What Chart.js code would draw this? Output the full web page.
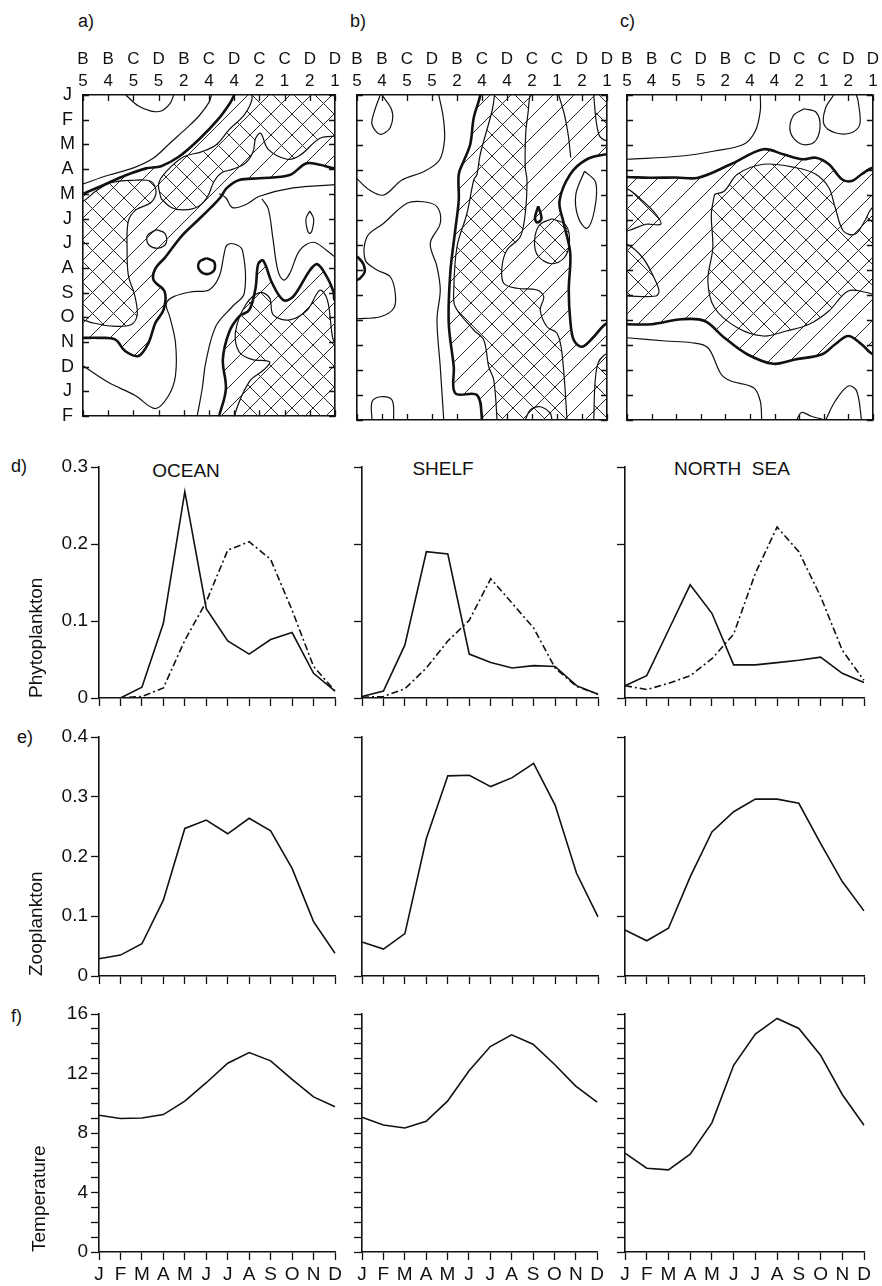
<!DOCTYPE html>
<html><head><meta charset="utf-8">
<script src="https://cdn.jsdelivr.net/npm/chart.js"></script>
<style>
html,body{margin:0;padding:0;background:#fff;width:882px;height:1286px;overflow:hidden;position:relative;font-family:'Liberation Sans',Arial,sans-serif;color:#111}
.t{position:absolute;font-size:19px;line-height:1;white-space:pre;transform:translate(-50%,-50%)}
.tl{position:absolute;font-size:18px;line-height:1;white-space:pre;transform:translateY(-50%)}
</style></head><body>
<div class="tl" style="left:78px;top:21px">a)</div>
<div class="tl" style="left:350px;top:21px">b)</div>
<div class="tl" style="left:620px;top:21px">c)</div>
<div class="tl" style="left:11px;top:466px">d)</div>
<div class="tl" style="left:17px;top:737px">e)</div>
<div class="tl" style="left:11px;top:1016px">f)</div>
<div class="t" style="left:186px;top:470px">OCEAN</div>
<div class="t" style="left:443px;top:468px">SHELF</div>
<div class="t" style="left:732px;top:468px">NORTH  SEA</div>
<script>
// ---------- data ----------
const months = ['J','F','M','A','M','J','J','A','S','O','N','D'];
const monthsY = ['J','F','M','A','M','J','J','A','S','O','N','D','J','F'];
const stationLetters = ['B','B','C','D','B','C','D','C','C','D','D'];
const stationNumbers = ['5','4','5','5','2','4','4','2','1','2','1'];

const phytoOceanSolid = [0, 0, 0.014, 0.097, 0.268, 0.116, 0.074, 0.057, 0.076, 0.085, 0.032, 0.009];
const phytoOceanDash  = [0, 0, 0.002, 0.013, 0.075, 0.125, 0.192, 0.203, 0.180, 0.114, 0.041, 0.009];
const phytoShelfSolid = [0.002, 0.009, 0.069, 0.190, 0.187, 0.057, 0.046, 0.039, 0.042, 0.041, 0.016, 0.005];
const phytoShelfDash  = [0.001, 0.002, 0.012, 0.039, 0.074, 0.101, 0.155, 0.123, 0.091, 0.039, 0.015, 0.005];
const phytoNSSolid    = [0.016, 0.029, 0.088, 0.147, 0.110, 0.043, 0.043, 0.046, 0.049, 0.053, 0.032, 0.020];
const phytoNSDash     = [0.016, 0.011, 0.019, 0.029, 0.051, 0.083, 0.162, 0.222, 0.190, 0.132, 0.062, 0.023];

const zooOcean = [0.029, 0.035, 0.054, 0.127, 0.247, 0.261, 0.238, 0.264, 0.243, 0.180, 0.091, 0.038];
const zooShelf = [0.057, 0.045, 0.071, 0.230, 0.335, 0.336, 0.317, 0.332, 0.356, 0.286, 0.172, 0.099];
const zooNS    = [0.077, 0.059, 0.080, 0.166, 0.241, 0.275, 0.296, 0.296, 0.289, 0.222, 0.158, 0.109];

const tempOcean = [9.19, 8.97, 9.01, 9.24, 10.14, 11.38, 12.69, 13.41, 12.85, 11.60, 10.43, 9.76];
const tempShelf = [9.06, 8.54, 8.34, 8.79, 10.14, 12.17, 13.81, 14.60, 13.97, 12.62, 11.15, 10.07];
const tempNS    = [6.65, 5.63, 5.52, 6.58, 8.68, 12.55, 14.65, 15.70, 15.03, 13.23, 10.59, 8.52];

// contour panels: x = station index (0..10), y = month index (0 = J at top .. 13 = F)
const aHatch = [
 [[0,4.0],[0.8,3.65],[1.7,3.25],[2.5,2.97],[3.1,2.88],[3.8,2.5],[4.6,1.8],[5.35,1.0],[5.85,0.3],[6.0,0],[6.3,-0.6],[10.6,-0.6],[10.6,2.9],[10,2.97],[9.4,2.82],[8.85,2.77],[8.2,3.24],[7.0,3.37],[6.2,3.44],[5.7,3.77],[5.45,4.15],[5.07,4.56],[4.6,5.03],[3.93,5.69],[3.27,6.56],[2.87,7.03],[2.8,7.49],[3.24,7.96],[3.2,8.69],[2.87,9.23],[2.6,10.03],[2.2,10.56],[1.67,10.36],[1.27,9.89],[0.6,9.83],[0,9.83],[-0.6,9.8],[-0.6,4.1],[0,4.0]],
 [[5.4,13],[5.67,11.9],[5.55,10.7],[5.8,9.6],[6.2,8.96],[6.6,8.7],[6.85,7.8],[6.95,6.85],[7.15,6.7],[7.5,7.6],[7.95,8.3],[8.35,8.15],[9.0,7.1],[9.3,6.85],[9.7,7.4],[9.95,8.0],[10,8.3],[10.6,8.3],[10.6,13.6],[5.3,13.6],[5.4,13]]
];
const aCross = [
 [[3.1,4.2],[3.0,3.6],[3.3,3.1],[4.0,2.5],[4.7,2.3],[5.3,2.0],[5.8,1.4],[6.4,0.8],[6.7,0.2],[6.75,-0.6],[10.6,-0.6],[10.6,1.7],[10,1.67],[9.4,1.75],[8.6,2.45],[8.1,2.6],[7.35,2.2],[7.05,1.55],[6.85,1.75],[6.75,2.3],[6.45,2.75],[5.95,3.0],[5.5,3.15],[5.2,3.5],[4.95,4.1],[4.6,4.5],[4.0,4.65],[3.5,4.55],[3.1,4.2]],
 [[-0.6,4.5],[0,4.3],[0.5,3.9],[1.1,3.55],[2.0,3.45],[2.7,3.5],[2.9,3.9],[2.7,4.35],[2.1,4.65],[1.8,5.1],[1.75,6.2],[1.8,7.3],[2.05,8.1],[2.15,8.9],[1.9,9.3],[1.1,9.35],[0.3,9.2],[0,9.1],[-0.6,9.1],[-0.6,4.5]],
 [[6.0,13.6],[6.0,13],[6.6,11.6],[7.2,11.1],[7.4,10.8],[6.7,10.7],[6.2,10.4],[6.05,9.6],[6.45,8.5],[7.0,8.0],[7.4,8.2],[7.55,8.9],[8.2,9.1],[8.9,8.7],[9.4,7.9],[9.7,8.3],[9.9,9.8],[10,10],[10.6,10],[10.6,13.6],[6.0,13.6]]
];
const aThin = [
 [[1.7,0],[2.2,0.45],[2.7,0.65],[3.1,0.65],[3.45,0.35],[3.6,0]],
 [[0,3.6],[1.0,3.25],[2.0,2.95],[2.8,2.55],[3.5,1.9],[4.1,1.35],[4.6,0.85],[5.0,0.3],[5.1,0]],
 [[0,10.96],[1.0,11.63],[2.07,12.16],[2.87,12.69],[3.4,12.16],[3.67,11.36],[3.67,10.03],[3.45,9.0],[3.3,8.45],[3.6,8.16],[4.33,7.96],[5.0,7.89],[5.4,7.36],[5.6,6.43],[5.7,6.09],[6.0,6.03],[6.33,6.29],[6.4,8.03],[5.93,8.56],[5.27,9.36],[4.87,10.83],[4.73,11.89],[4.53,13]],
 [[2.9,5.45],[3.25,5.6],[3.3,6.0],[3.0,6.2],[2.6,6.05],[2.55,5.7],[2.9,5.45]],
 [[5.4,4.0],[5.67,4.16],[5.93,4.56],[6.47,4.43],[7.0,4.1],[8.33,3.76],[10,3.63]],
 [[7.1,4.2],[7.35,4.6],[7.53,5.76],[7.73,7.09],[7.96,7.49],[8.2,7.23],[8.6,6.29],[9.13,5.96],[9.67,6.29],[10,6.56]],
 [[9.0,4.7],[9.15,5.0],[9.1,5.45],[9.0,5.6],[8.9,5.45],[8.85,5.0],[9.0,4.7]]
];
const aThick = [
 [[4.9,6.6],[5.2,6.75],[5.2,7.1],[4.9,7.25],[4.6,7.05],[4.62,6.75],[4.9,6.6]]
];

const bHatch = [
 [[4.93,-0.6],[4.93,0],[4.67,0.91],[4.53,1.97],[4.27,2.64],[4.07,3.17],[4.07,4.2],[3.93,5.4],[3.73,7.13],[3.67,9.13],[3.87,10.87],[3.93,11.93],[4.8,12.0],[5.0,13],[5.0,13.6],[10.6,13.6],[10.6,9.13],[10,9.13],[9.47,9.67],[9.0,10.07],[8.67,9.8],[8.53,9.0],[8.47,7.8],[8.53,6.33],[8.27,5.13],[8.1,4.24],[8.53,3.17],[9.2,2.57],[10,2.37],[10.6,2.37],[10.6,-0.6],[4.93,-0.6]]
];
const bCross = [
 [[5.5,-0.6],[5.5,0],[5.4,0.64],[4.93,2.37],[4.8,3.17],[4.67,3.4],[4.4,4.73],[4.0,6.07],[3.87,7.8],[3.93,8.47],[4.67,9.4],[5.07,9.8],[5.27,10.87],[5.47,11.4],[5.6,13],[5.6,13.6],[8.4,13.6],[8.4,13],[8.2,10.33],[8.0,9.53],[7.6,9.27],[7.33,8.6],[7.47,8.07],[7.2,7.8],[6.4,7.73],[5.87,7.53],[5.8,6.87],[6.0,6.2],[6.53,5.67],[6.73,4.73],[6.8,3.4],[6.73,2.9],[6.75,1.5],[6.87,0.4],[6.85,-0.6],[5.5,-0.6]],
 [[9.47,-0.6],[9.47,0],[9.67,1.57],[10,1.84],[10.6,1.84],[10.6,-0.6],[9.47,-0.6]],
 [[9.47,13.6],[9.47,13],[9.6,10.87],[10,10.33],[10.6,10.33],[10.6,13.6],[9.47,13.6]],
 [[7.8,4.95],[8.35,5.2],[8.5,5.85],[8.3,6.5],[7.8,6.75],[7.25,6.45],[7.1,5.85],[7.3,5.2],[7.8,4.95]]
];
const bThin = [
 [[0.93,0],[0.7,0.64],[0.6,1.17],[0.93,1.57],[1.33,1.3],[1.4,0.64],[1.0,0]],
 [[3.27,0],[3.45,0.9],[3.5,1.8],[3.3,2.6],[2.7,3.05],[1.8,3.4],[1.07,4.0],[0.5,3.8],[0,3.35]],
 [[0,8.95],[0.93,8.87],[1.47,8.53],[1.53,7.93],[1.33,7.27],[0.8,7.0],[0.33,6.6],[0.4,5.67],[1.07,5.13],[2.0,4.33],[2.67,4.27],[3.2,4.47],[3.33,5.13],[2.93,5.93],[3.2,6.87],[3.33,7.8],[3.2,9.0],[3.33,10.87],[3.47,13]],
 [[0.6,13],[0.6,12.27],[0.93,12.07],[1.4,12.2],[1.47,13]],
 [[6.73,13],[6.93,12.6],[7.33,12.47],[7.73,12.73],[7.8,13]],
 [[8.07,0],[8.3,0.8],[8.45,1.6],[8.55,2.5]],
 [[9.1,3.05],[9.55,3.5],[9.5,4.6],[9.2,5.33],[8.85,4.9],[8.75,4.0],[9.1,3.05]]
];
const bThick = [
 [[7.25,4.45],[7.38,4.95],[7.2,5.1],[7.12,4.9],[7.25,4.45]],
 [[0,6.45],[0.25,6.75],[0.3,7.1],[0.1,7.35],[0,7.4]]
];

const cHatch = [
 [[-0.6,3.28],[0,3.28],[0.9,3.31],[2.0,3.3],[2.9,3.31],[4.22,2.77],[5.55,2.17],[6.35,2.37],[7.14,2.57],[7.68,2.51],[8.21,2.77],[8.74,3.37],[9.14,3.44],[9.54,3.17],[10,2.91],[10.6,2.91],[10.6,10.37],[10,10.37],[9.54,9.97],[9.0,9.64],[8.47,9.97],[7.94,10.37],[6.88,10.57],[5.95,10.75],[4.89,10.37],[3.96,9.71],[3.16,9.04],[2.23,8.97],[1.0,9.17],[0,9.17],[-0.6,9.17],[-0.6,3.28]]
];
const cCross = [
 [[3.56,3.97],[3.96,3.84],[4.49,3.17],[5.55,2.77],[6.88,2.91],[7.68,3.17],[8.21,3.71],[8.47,4.51],[8.8,5.44],[9.27,5.57],[9.67,5.04],[10,4.5],[10.6,4.5],[10.6,7.97],[10,7.97],[9.8,7.91],[9.0,7.84],[8.21,8.64],[7.41,9.17],[6.48,9.44],[5.55,9.64],[4.49,9.31],[3.56,8.51],[3.29,7.44],[3.49,6.11],[3.43,4.77],[3.56,3.97]],
 [[-0.6,3.75],[0,3.75],[0.64,4.24],[1.2,4.8],[1.37,5.17],[0.77,5.17],[0,5.44],[-0.6,5.44],[-0.6,3.75]],
 [[-0.6,5.97],[0,5.97],[0.64,6.51],[1.1,7.31],[1.3,7.84],[1.17,8.04],[0,8.04],[-0.6,8.04],[-0.6,5.97]]
];
const cThin = [
 [[5.42,0],[5.42,0.64],[5.22,1.44],[4.75,1.97],[3.56,2.24],[2.23,2.44],[0,2.57]],
 [[7.2,0.55],[7.7,0.7],[7.85,1.3],[7.6,1.9],[7.05,1.95],[6.65,1.5],[6.75,0.85],[7.2,0.55]],
 [[8.41,0],[8.08,0.51],[8.01,1.17],[8.47,1.51],[9.13,1.51],[9.47,1.17],[9.4,0.24],[9.33,0]],
 [[0,9.71],[1.56,9.84],[2.63,9.91],[3.29,10.11],[3.83,11.17],[4.22,11.44],[5.15,11.71],[5.42,12.24],[5.48,13]],
 [[8.08,13],[8.47,12.24],[9.0,11.64],[9.34,11.84],[9.54,13]],
 [[6.9,13],[7.1,12.7],[7.5,12.85],[8.08,13]]
];
const cThick = [];

// ---------- rendering ----------
const INK = '#111';
Chart.defaults.font.family = "'Liberation Sans', Arial, sans-serif";
Chart.defaults.font.size = 19;
Chart.defaults.color = INK;

function makePattern(cross) {
  const s = 21, c = document.createElement('canvas');
  c.width = s; c.height = s;
  const g = c.getContext('2d');
  g.strokeStyle = '#2a2a2a'; g.lineWidth = 1;
  const seg = (x0, y0, x1, y1) => { g.beginPath(); g.moveTo(x0, y0); g.lineTo(x1, y1); g.stroke(); };
  seg(-2, s + 2, s + 2, -2); seg(-2, 2, 2, -2); seg(s - 2, s + 2, s + 2, s - 2);
  if (cross) { seg(-2, -2, s + 2, s + 2); seg(s - 2, -2, s + 2, 2); seg(-2, s - 2, 2, s + 2); }
  return g.createPattern(c, 'repeat');
}
const hatchPat = makePattern(false);
const crossPat = makePattern(true);

function mkCanvas(b) {
  const c = document.createElement('canvas');
  c.width = b.w; c.height = b.h;
  c.style.cssText = `position:absolute;left:${b.x}px;top:${b.y}px;width:${b.w}px;height:${b.h}px`;
  document.body.appendChild(c);
  return c;
}

const innerTicks = {
  id: 'innerTicks',
  afterDatasetsDraw(chart, args, opts) {
    const {ctx, chartArea: a} = chart;
    const xs = chart.scales.x, ys = chart.scales.y, L = opts.len || 6;
    ctx.save(); ctx.strokeStyle = INK; ctx.lineWidth = 1.3; ctx.beginPath();
    xs.ticks.forEach(t => { const p = Math.round(xs.getPixelForValue(t.value)) + 0.5;
      ctx.moveTo(p, a.top); ctx.lineTo(p, a.top + L); ctx.moveTo(p, a.bottom); ctx.lineTo(p, a.bottom - L); });
    ys.ticks.forEach(t => { const p = Math.round(ys.getPixelForValue(t.value)) + 0.5;
      ctx.moveTo(a.left, p); ctx.lineTo(a.left + L, p); ctx.moveTo(a.right, p); ctx.lineTo(a.right - L, p); });
    ctx.stroke(); ctx.restore();
  }
};

const gridOpts = {drawOnChartArea: false, drawTicks: false};
const borderOpts = {display: true, color: INK, width: 1.6};
const toXY = pts => pts.map(([x, y]) => ({x, y}));

function contourChart(box, area, sets, showY) {
  const ds = [];
  sets.hatch.forEach(p => ds.push({data: toXY(p), fill: 'shape', backgroundColor: hatchPat, borderColor: INK, borderWidth: 2.6, pointRadius: 0, tension: 0.35, order: 4, clip: 0}));
  sets.cross.forEach(p => ds.push({data: toXY(p), fill: 'shape', backgroundColor: crossPat, borderColor: INK, borderWidth: 1.2, pointRadius: 0, tension: 0.35, order: 3, clip: 0}));
  sets.thin.forEach(p => ds.push({data: toXY(p), fill: false, borderColor: INK, borderWidth: 1.2, pointRadius: 0, tension: 0.35, order: 2, clip: 0}));
  sets.thick.forEach(p => ds.push({data: toXY(p), fill: false, borderColor: INK, borderWidth: 2.6, pointRadius: 0, tension: 0.35, order: 1, clip: 0}));
  return new Chart(mkCanvas(box), {
    type: 'line',
    data: {datasets: ds},
    plugins: [innerTicks],
    options: {
      responsive: false, animation: false, devicePixelRatio: 1, events: [],
      layout: {autoPadding: false, padding: 0},
      plugins: {legend: {display: false}, tooltip: {enabled: false}, innerTicks: {len: 6}},
      scales: {
        x: {type: 'linear', axis: 'x', position: 'top', min: 0, max: 10, grid: gridOpts, border: borderOpts,
            ticks: {stepSize: 1, autoSkip: false, maxRotation: 0, padding: 3, font: {size: 17, lineHeight: 1.3},
                    callback: v => [stationLetters[v], stationNumbers[v]]},
            afterFit: s => { s.height = area.t - box.y; }},
        x2: {type: 'linear', axis: 'x', position: 'bottom', min: 0, max: 10, grid: gridOpts, border: borderOpts,
             ticks: {display: false, stepSize: 1}, afterFit: s => { s.height = box.y + box.h - area.b; }},
        y: {type: 'linear', axis: 'y', position: 'left', reverse: true, min: 0, max: 13, grid: gridOpts, border: borderOpts,
            ticks: {display: showY, stepSize: 1, autoSkip: false, padding: 8, crossAlign: 'center', font: {size: 18},
                    callback: v => monthsY[v]},
            afterFit: s => { s.width = area.l - box.x; }},
        y2: {type: 'linear', axis: 'y', position: 'right', reverse: true, min: 0, max: 13, grid: gridOpts, border: borderOpts,
             ticks: {display: false, stepSize: 1}, afterFit: s => { s.width = box.x + box.w - area.r; }}
      }
    }
  });
}

function lineChart(box, area, series, yc, o) {
  const tickGrid = {drawOnChartArea: false, drawTicks: true, tickLength: 8, tickColor: INK, tickWidth: 1.3};
  return new Chart(mkCanvas(box), {
    type: 'line',
    data: {labels: months, datasets: series.map(s => ({data: s.data, borderColor: INK, borderWidth: 1.6, borderDash: s.dash || [], pointRadius: 0, tension: 0, fill: false}))},
    options: {
      responsive: false, animation: false, devicePixelRatio: 1, events: [],
      layout: {autoPadding: false, padding: {left: 0, bottom: 0, top: area.t - box.y, right: box.x + box.w - area.r}},
      plugins: {legend: {display: false}, tooltip: {enabled: false}},
      scales: {
        x: {type: 'category', offset: false, grid: tickGrid, border: borderOpts,
            ticks: {display: !!o.xLabels, autoSkip: false, maxRotation: 0, padding: 3},
            afterFit: s => { s.height = box.y + box.h - area.b; }},
        y: {type: 'linear', min: yc.min, max: yc.max, grid: tickGrid, border: borderOpts,
            ticks: {display: !!o.yLabels, stepSize: yc.step, autoSkip: false, maxTicksLimit: 100, padding: 3, callback: yc.cb},
            title: o.title ? {display: true, text: o.title, align: 'start', padding: {top: o.titleX - 11.4, bottom: 0}, font: {size: 19}} : {display: false},
            afterFit: s => { s.width = area.l - box.x; }}
      }
    }
  });
}

// contour panels
const cTop = 30, cH = 405, aTop = 95, aBot = 420;
contourChart({x: 40, y: cTop, w: 305, h: cH}, {l: 83, r: 335, t: aTop, b: aBot}, {hatch: aHatch, cross: aCross, thin: aThin, thick: aThick}, true);
contourChart({x: 345, y: cTop, w: 272, h: cH}, {l: 357, r: 607, t: aTop, b: aBot}, {hatch: bHatch, cross: bCross, thin: bThin, thick: bThick}, false);
contourChart({x: 617, y: cTop, w: 265, h: cH}, {l: 627, r: 878, t: aTop, b: aBot}, {hatch: cHatch, cross: cCross, thin: cThin, thick: cThick}, false);

// line panels
const cols = [{x: 0, w: 345, l: 99, r: 335}, {x: 345, w: 262, l: 362, r: 598}, {x: 607, w: 275, l: 625, r: 864}];
const rows = [{y: 440, h: 275, t: 467, b: 698}, {y: 720, h: 273, t: 737, b: 976}, {y: 995, h: 291, t: 1014, b: 1252}];
const phyY = {min: 0, max: 0.3, step: 0.1, cb: v => v === 0 ? '0' : v.toFixed(1)};
const zooY = {min: 0, max: 0.4, step: 0.1, cb: v => v === 0 ? '0' : v.toFixed(1)};
const tmpY = {min: 0, max: 16, step: 1, cb: v => (v % 4 === 0 ? String(v) : '')};
const DASH = [7, 3, 2, 3];
const phySeries = [[phytoOceanSolid, phytoOceanDash], [phytoShelfSolid, phytoShelfDash], [phytoNSSolid, phytoNSDash]];
const zooSeries = [zooOcean, zooShelf, zooNS];
const tmpSeries = [tempOcean, tempShelf, tempNS];

cols.forEach((c, i) => {
  const first = i === 0;
  let r = rows[0];
  lineChart({x: c.x, y: r.y, w: c.w, h: r.h}, {l: c.l, r: c.r, t: r.t, b: r.b},
    [{data: phySeries[i][0]}, {data: phySeries[i][1], dash: DASH}], phyY,
    {yLabels: first, title: first ? 'Phytoplankton' : null, titleX: 37});
  r = rows[1];
  lineChart({x: c.x, y: r.y, w: c.w, h: r.h}, {l: c.l, r: c.r, t: r.t, b: r.b},
    [{data: zooSeries[i]}], zooY, {yLabels: first, title: first ? 'Zooplankton' : null, titleX: 37});
  r = rows[2];
  lineChart({x: c.x, y: r.y, w: c.w, h: r.h}, {l: c.l, r: c.r, t: r.t, b: r.b},
    [{data: tmpSeries[i]}], tmpY, {yLabels: first, xLabels: true, title: first ? 'Temperature' : null, titleX: 40});
});
</script>
</body></html>
